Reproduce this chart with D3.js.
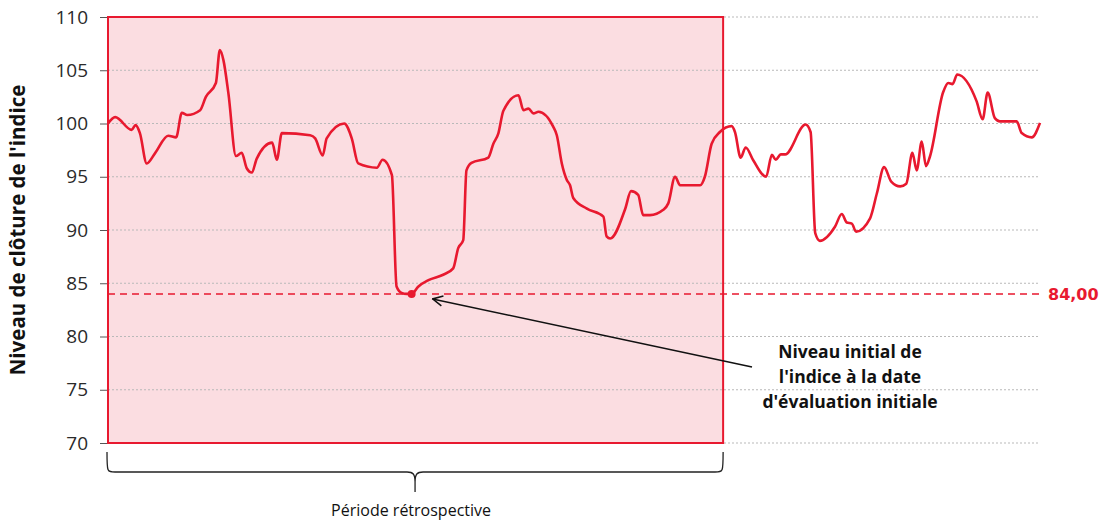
<!DOCTYPE html>
<html><head><meta charset="utf-8">
<script src="https://cdn.jsdelivr.net/npm/d3@7"></script>
<style>body{margin:0;background:#fff}svg{display:block}
.yaxis text{font-family:'Open Sans',sans-serif;font-size:19px;fill:#2a2a2a}</style>
</head><body>
<svg id="chart" width="1104" height="522"></svg>
<script>
// ---- data ----
const days = [0,2.0,6.6,7.7,8.9,10.8,13.1,16.8,19.0,20.6,22.1,25.7,27.3,30.1,31.2,32.2,33.6,35.7,37.3,38.7,40.1,41.5,45.8,47.1,48.5,56.4,57.8,59.9,61.0,65.9,68.0,69.8,75.0,76.6,79.2,80.5,81.9,83.3,84.7,86.6,89.4,93.5,96.3,97.7,99.1,100.0,101.4,106.1,107.5,108.9,110.3,114.5,115.9,117.3,118.7,120.1,124.2,125.2,126.6,128.0,128.9,129.8,133.6,138.2,139.1,140.1,144.3,145.9,147.9,149.3,151.2,154.9,156.3,158.2,159.6,165.2,166.5,168.4,170.7,174.0,174.9,176.5,177.9,180.0,183.6,185.2,186.3,187.7,188.9,194.6,196.0,197.3,198.6,202.8,204.7,206.1,207.5,208.7,212.6,214.5,216.5,218.5,221.0,222.7,224.4,225.6,227.0,228.2,229.3,233.0,234.4,235.6,236.9,242.3,244.0,245.4,247.4,248.8,253.5,254.9,257.7,260];
const closes = [100.0,100.6,99.4,99.85,99.1,96.25,97.2,98.85,98.7,101.0,100.8,101.25,102.5,103.8,106.9,105.95,102.8,96.95,97.25,95.8,95.4,96.7,98.2,96.6,99.1,98.9,98.6,97.0,98.6,100.0,98.6,96.25,95.85,96.6,95.15,84.7,84.1,84.0,84.0,84.7,85.3,85.8,86.4,88.3,89.05,95.6,96.3,96.8,98.1,99.07,101.2,102.65,101.25,101.4,100.95,101.1,99.7,98.9,96.25,94.7,94.2,93.0,92.0,91.25,89.4,89.2,92.0,93.65,93.3,91.4,91.4,91.9,92.5,95.0,94.2,94.2,95.0,98.1,99.2,99.75,99.2,96.8,97.75,96.55,95.0,97.05,96.6,97.1,97.1,99.9,99.2,89.7,88.98,90.3,91.5,90.7,90.6,89.85,91.1,93.45,95.9,94.55,94.1,94.35,97.25,95.6,98.3,96.0,96.9,102.95,103.8,103.7,104.6,102.1,100.4,102.9,100.5,100.2,100.2,99.1,98.7,100.06];
const yTicks = [70,75,80,85,90,95,100,105,110];
const initialLevel = 84.00;
const initialDay = 84.7;
const retroStart = 0, retroEnd = 171.6;
const yTitle = "Niveau de clôture de l'indice";
const levelLabel = "84,00";
const noteLines = ["Niveau initial de", "l'indice à la date", "d'évaluation initiale"];
const braceLabel = "Période rétrospective";

// ---- chart ----
const RED = "#e8192f", PINK = "#fbdde1";
const svg = d3.select("#chart");
const m = {left:108, right:64, top:17, bottom:79};
const W = 1104, H = 522;
const x = d3.scaleLinear().domain([0,260]).range([m.left, W - m.right]);
const y = d3.scaleLinear().domain([70,110]).range([H - m.bottom, m.top]);

// retrospective period rectangle
svg.append("rect")
  .attr("x", x(retroStart)).attr("y", y(110))
  .attr("width", x(retroEnd) - x(retroStart)).attr("height", y(70) - y(110))
  .attr("fill", PINK);

// grid
svg.append("g").selectAll("line").data(yTicks).join("line")
  .attr("x1", x(0)).attr("x2", x(260))
  .attr("y1", d => y(d)).attr("y2", d => y(d))
  .attr("stroke", "#b9b9b9").attr("stroke-width", 1).attr("stroke-dasharray", "2,2");

// y axis
const ya = svg.append("g").attr("class", "yaxis").attr("transform", `translate(${x(0)},0)`)
  .call(d3.axisLeft(y).tickValues(yTicks).tickSize(8).tickPadding(12));
ya.attr("font-size", 19).attr("font-family", "Open Sans, sans-serif");
ya.select(".domain").remove();
ya.selectAll(".tick line").attr("stroke", "#555");

svg.append("text")
  .attr("transform", `translate(25,${(y(70)+y(110))/2}) rotate(-90)`)
  .attr("text-anchor", "middle")
  .attr("font-family", "Open Sans, sans-serif").attr("font-weight", 700).attr("font-size", 20.5)
  .attr("fill", "#111").text(yTitle);

// rect border
svg.append("rect")
  .attr("x", x(retroStart)).attr("y", y(110))
  .attr("width", x(retroEnd) - x(retroStart)).attr("height", y(70) - y(110))
  .attr("fill", "none").attr("stroke", RED).attr("stroke-width", 2);

// initial level dashed line
svg.append("line")
  .attr("x1", x(0)).attr("x2", x(260))
  .attr("y1", y(initialLevel)).attr("y2", y(initialLevel))
  .attr("stroke", RED).attr("stroke-width", 1.5).attr("stroke-dasharray", "7,5");
svg.append("text")
  .attr("x", x(260) + 8).attr("y", y(initialLevel)).attr("dy", "0.36em")
  .attr("font-family", "DejaVu Sans, sans-serif").attr("font-weight", 700).attr("font-size", 16)
  .attr("fill", RED).text(levelLabel);

// series line
const pts = days.map((d,i) => [d, closes[i]]);
svg.append("path").datum(pts)
  .attr("fill", "none").attr("stroke", RED).attr("stroke-width", 2.6).attr("stroke-linejoin", "round")
  .attr("d", d3.line().x(d => x(d[0])).y(d => y(d[1])).curve(d3.curveMonotoneX));

// marker
svg.append("circle").attr("cx", x(initialDay)).attr("cy", y(initialLevel)).attr("r", 4).attr("fill", RED);

// annotation arrow
svg.append("defs").append("marker").attr("id","arr")
  .attr("viewBox","0 0 12 12").attr("refX",11).attr("refY",6)
  .attr("markerWidth",12).attr("markerHeight",12).attr("markerUnits","userSpaceOnUse")
  .attr("orient","auto")
  .append("path").attr("d","M1,1 L11,6 L1,11").attr("fill","none").attr("stroke","#111").attr("stroke-width",1.5);
svg.append("line")
  .attr("x1", 752).attr("y1", 367)
  .attr("x2", x(initialDay) + 21).attr("y2", y(initialLevel) + 5)
  .attr("stroke", "#111").attr("stroke-width", 1.5).attr("marker-end", "url(#arr)");

const note = svg.append("text").attr("text-anchor", "middle")
  .attr("font-family", "Open Sans, sans-serif").attr("font-weight", 700).attr("font-size", 17.5).attr("fill", "#111");
noteLines.forEach((t,i) => note.append("tspan").attr("x", 850).attr("y", 358 + i*25).text(t));

// brace
const bx0 = x(retroStart) - 1, bx1 = x(retroEnd), bm = (bx0 + bx1)/2;
const bTop = y(70) + 9, bMid = y(70) + 29, bTip = y(70) + 49;
svg.append("path")
  .attr("d", `M${bx0},${bTop} C${bx0},${bMid} ${bx0},${bMid} ${bx0+8},${bMid}
    L${bm-8},${bMid} C${bm-2},${bMid} ${bm},${bMid+2} ${bm},${bMid+10} L${bm},${bTip}
    M${bm},${bMid+10} C${bm},${bMid+2} ${bm+2},${bMid} ${bm+8},${bMid}
    L${bx1-8},${bMid} C${bx1},${bMid} ${bx1},${bMid} ${bx1},${bTop}`)
  .attr("fill", "none").attr("stroke", "#222").attr("stroke-width", 1.3);
svg.append("text").attr("x", bm - 4).attr("y", y(70) + 73).attr("text-anchor", "middle")
  .attr("font-family", "Open Sans, sans-serif").attr("font-size", 16).attr("fill", "#111").text(braceLabel);
</script>
</body></html>
